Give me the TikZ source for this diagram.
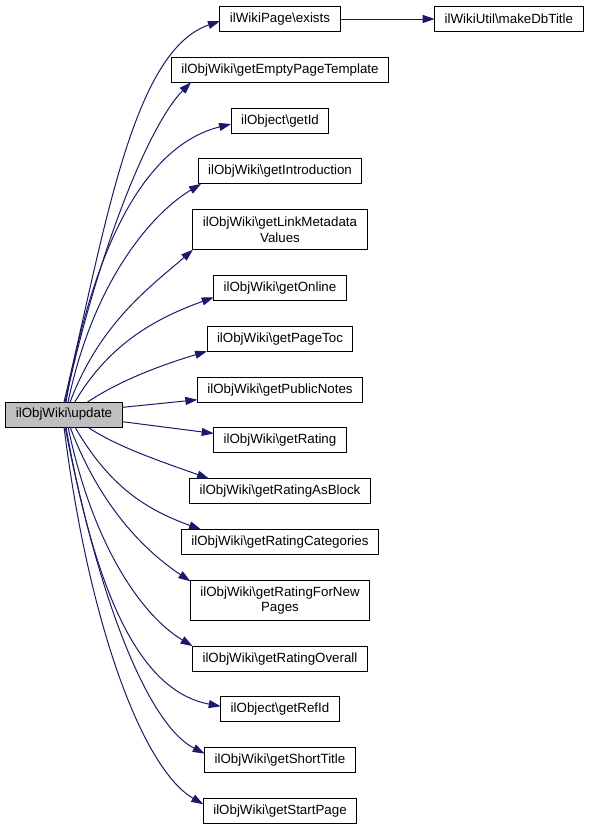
\documentclass[tikz,border=0pt]{standalone}
\usepackage{fontspec}
\setmainfont{Liberation Sans}
\usetikzlibrary{arrows.meta,positioning}
\definecolor{midblue}{HTML}{191970}
\definecolor{callgray}{HTML}{BFBFBF}
\newcommand{\bsl}{\textbackslash}
\tikzset{box/.style={draw=black,fill=white,line width=0.75pt,align=center,font=\fontsize{10}{11.5}\selectfont,inner xsep=7.5pt,inner ysep=0pt,outer sep=0pt,minimum height=18.75pt}, tallbox/.style={box,minimum height=30pt}, caller/.style={box,fill=callgray}, flow/.style={-{Triangle[length=9pt,width=6pt]},line width=0.75pt,draw=midblue}}
\begin{document}
\begin{tikzpicture}[x=0.75pt,y=-0.75pt,node distance=19.35pt]
\useasboundingbox (0,0) rectangle (595,829);
\node[caller] (upd) at (64,414.5) {ilObjWiki\bsl update};
\node[box] (exists) at (280,19) {ilWikiPage\bsl exists};
\node[box,right=71pt of exists] (mkdb) {ilWikiUtil\bsl makeDbTitle};
\node[box,below=of exists] (tmpl) {ilObjWiki\bsl getEmptyPageTemplate};
\node[box,below=of tmpl] (getid) {ilObject\bsl getId};
\node[box,below=of getid] (intro) {ilObjWiki\bsl getIntroduction};
\node[tallbox,below=of intro] (linkmeta) {ilObjWiki\bsl getLinkMetadata\\Values};
\node[box,below=of linkmeta] (online) {ilObjWiki\bsl getOnline};
\node[box,below=of online] (pagetoc) {ilObjWiki\bsl getPageToc};
\node[box,below=of pagetoc] (notes) {ilObjWiki\bsl getPublicNotes};
\node[box,below=of notes] (rating) {ilObjWiki\bsl getRating};
\node[box,below=of rating] (asblock) {ilObjWiki\bsl getRatingAsBlock};
\node[box,below=of asblock] (cats) {ilObjWiki\bsl getRatingCategories};
\node[tallbox,below=of cats] (fornew) {ilObjWiki\bsl getRatingForNew\\Pages};
\node[box,below=of fornew] (overall) {ilObjWiki\bsl getRatingOverall};
\node[box,below=of overall] (refid) {ilObject\bsl getRefId};
\node[box,below=of refid] (short) {ilObjWiki\bsl getShortTitle};
\node[box,below=of short] (startpg) {ilObjWiki\bsl getStartPage};
\draw[flow] (exists)--(mkdb);
\draw[flow] (upd.90) .. controls +(41,-172) and +(-88,30) .. (exists.182);
\draw[flow] (upd.85) .. controls +(35,-160) and +(-40,40) .. (tmpl.188);
\draw[flow] (upd.81) .. controls +(30,-170) and +(-80,20) .. (getid.184);
\draw[flow] (upd.72) .. controls +(25,-120) and +(-50,30) .. (intro.189);
\draw[flow] (upd.64) .. controls +(30,-80) and +(-40,35) .. (linkmeta.south west);
\draw[flow] (upd.49) .. controls +(35,-60) and +(-55,20) .. (online.188);
\draw[flow] (upd.28) .. controls +(30,-20) and +(-50,15) .. (pagetoc.south west);
\draw[flow] (upd.7)--(notes.187);\draw[flow] (upd.-7)--(rating.174);
\draw[flow] (upd.-28) .. controls +(30,20) and +(-50,-18) .. (asblock.170);
\draw[flow] (upd.-49) .. controls +(35,60) and +(-55,-20) .. (cats.171);
\draw[flow] (upd.-64) .. controls +(30,80) and +(-45,-30) .. (fornew.168);
\draw[flow] (upd.-72) .. controls +(25,120) and +(-50,-30) .. (overall.north west);
\draw[flow] (upd.-81) .. controls +(30,170) and +(-80,-15) .. (refid.177);
\draw[flow] (upd.-85) .. controls +(35,180) and +(-55,-28) .. (short.175);
\draw[flow] (upd.-90) .. controls +(25,200) and +(-60,-35) .. (startpg.175);
\end{tikzpicture}
\end{document}
